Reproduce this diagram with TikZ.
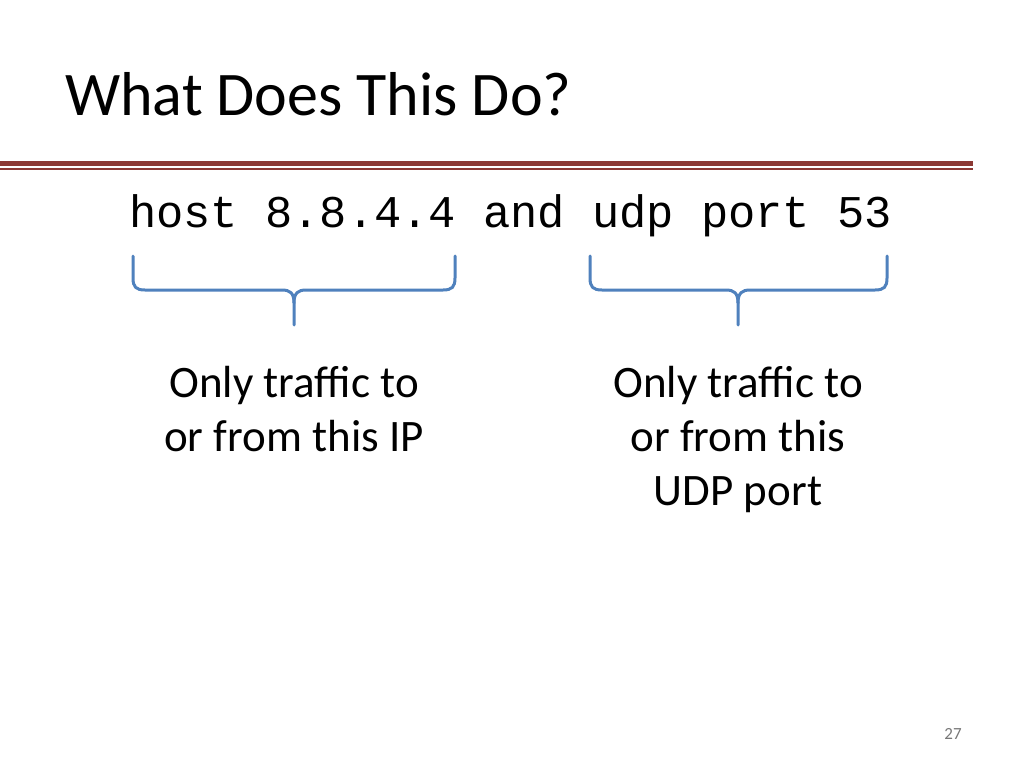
\documentclass[tikz,border=0pt]{standalone}
\usepackage{fontspec}
\setmainfont{Carlito}
\newfontfamily\codefont{Liberation Mono}
\definecolor{rulered}{RGB}{140,56,52}
\definecolor{braceblue}{RGB}{79,129,189}
\definecolor{pagegray}{RGB}{120,120,120}
\begin{document}
\begin{tikzpicture}[x=1pt,y=-1pt,
  bracestyle/.style={draw=braceblue,line width=3pt,line cap=round,line join=round},
  bodytext/.style={align=center,inner sep=0pt,font=\fontsize{45}{54}\selectfont,anchor=base}]
\useasboundingbox[fill=white] (0,0) rectangle (1024,768);
% title
\node[anchor=base west,inner sep=0pt,font=\fontsize{62}{74}\selectfont] (title) at (65,115) {What Does This Do?};
% rules
\fill[rulered] (0,161) rectangle (973,166);
\fill[rulered] (0,168) rectangle (973,170.2);
% code
\node[anchor=base west,inner sep=0pt,font=\codefont\fontsize{45.4}{50}\selectfont] (code) at (129,227) {host 8.8.4.4 and udp port 53};
% braces
\coordinate (lb) at (294,325);
\coordinate (rb) at (738,325);
\draw[bracestyle] (133,256) -- (133,278) .. controls (133,287) and (136,290) .. (145,290)
  -- (282,290) .. controls (290,290) and (294,293) .. (294,303) -- (lb);
\draw[bracestyle] (455,256) -- (455,278) .. controls (455,287) and (452,290) .. (443,290)
  -- (306,290) .. controls (298,290) and (294,293) .. (294,303);
\draw[bracestyle] (590,256) -- (590,278) .. controls (590,287) and (593,290) .. (602,290)
  -- (726,290) .. controls (734,290) and (738,293) .. (738,303) -- (rb);
\draw[bracestyle] (887,256) -- (887,278) .. controls (887,287) and (884,290) .. (875,290)
  -- (750,290) .. controls (742,290) and (738,293) .. (738,303);
% texts
\node[bodytext,anchor=north] (ltext) at (294,366) {Only traffic to\\or from this IP};
\node[bodytext,anchor=north] (rtext) at (738,366) {Only traffic to\\or from this\\UDP port};
% page number
\node[anchor=base,inner sep=0pt,text=pagegray,font=\fontsize{17}{20}\selectfont] (pnum) at (953,739) {27};
\end{tikzpicture}
\end{document}
